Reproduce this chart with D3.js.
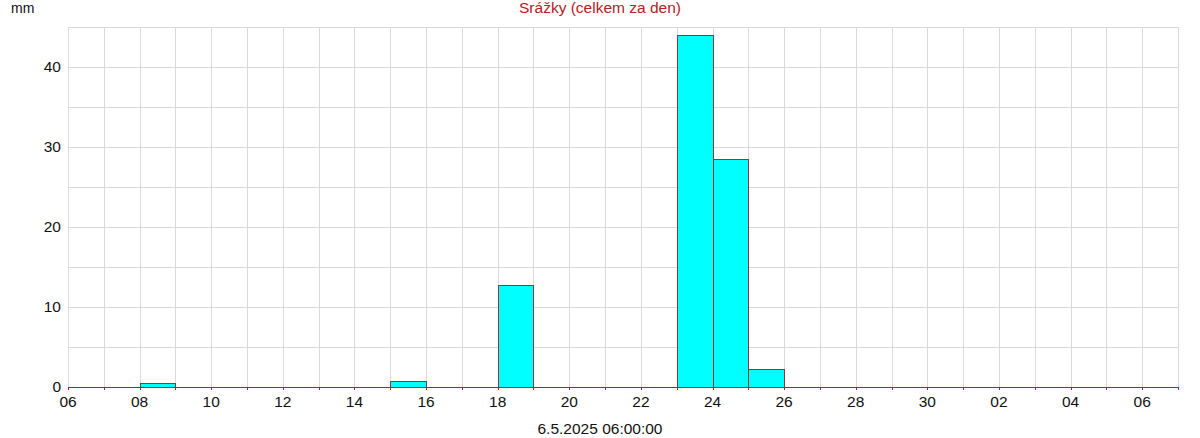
<!DOCTYPE html>
<html>
<head>
<meta charset="utf-8">
<script src="https://cdn.jsdelivr.net/npm/d3@7"></script>
<style>
  body { margin: 0; background: #fff; }
  svg { display: block; font-family: "Liberation Sans", Arial, sans-serif; }
</style>
</head>
<body>
<svg id="chart" width="1200" height="438"></svg>
<script>
// ---- data ----
const title = "Srážky (celkem za den)";
const yUnit = "mm";
const xCaption = "6.5.2025 06:00:00";
// day index 0 = 06.04.2025 ; domain spans 31 days
const dayCount = 31;
const tickLabels = ["06","08","10","12","14","16","18","20","22","24","26","28","30","02","04","06"];
const barDays = [2, 9, 12, 17, 18, 19];
const barValues = [0.5, 0.8, 12.8, 44.0, 28.5, 2.3];
const yTicks = [0, 10, 20, 30, 40];
const yMax = 45;

// ---- chart ----
(function () {
const svg = d3.select("#chart");
const pLeft = 68, pRight = 1178, pTop = 27, pBottom = 387;
const x = d3.scaleLinear().domain([0, dayCount]).range([pLeft, pRight]);
const y = d3.scaleLinear().domain([0, yMax]).range([pBottom, pTop]);
const red = "#b22222";
const grid = "#d9d9d9";

const g = svg.append("g");
// vertical grid (each day)
g.selectAll("line.vg").data(d3.range(0, dayCount + 1)).enter().append("line")
  .attr("x1", d => Math.round(x(d)) + 0.5).attr("x2", d => Math.round(x(d)) + 0.5)
  .attr("y1", pTop).attr("y2", pBottom)
  .attr("stroke", grid).attr("stroke-width", 1);
// horizontal grid (every 5)
g.selectAll("line.hg").data(d3.range(0, yMax + 1, 5)).enter().append("line")
  .attr("x1", pLeft).attr("x2", pRight + 1)
  .attr("y1", d => Math.round(y(d)) + 0.5).attr("y2", d => Math.round(y(d)) + 0.5)
  .attr("stroke", grid).attr("stroke-width", 1);

// bars
g.selectAll("rect.bar").data(barDays.map((d, i) => ({d, v: barValues[i]}))).enter().append("rect")
  .attr("x", d => Math.round(x(d.d)) + 0.5)
  .attr("width", d => Math.round(x(d.d + 1)) - Math.round(x(d.d)))
  .attr("y", d => Math.round(y(d.v)) + 0.5)
  .attr("height", d => Math.round(y(0)) - Math.round(y(d.v)))
  .attr("fill", "#00ffff").attr("stroke", "#a03030").attr("stroke-width", 1);

// zero line
g.append("line").attr("x1", pLeft).attr("x2", pRight + 1)
  .attr("y1", Math.round(y(0)) + 0.5).attr("y2", Math.round(y(0)) + 0.5)
  .attr("stroke", red).attr("stroke-width", 1);
// day ticks
g.selectAll("line.tk").data(d3.range(0, dayCount + 1)).enter().append("line")
  .attr("x1", d => Math.round(x(d)) + 0.5).attr("x2", d => Math.round(x(d)) + 0.5)
  .attr("y1", Math.round(y(0)) + 0.5).attr("y2", Math.round(y(0)) + 3)
  .attr("stroke", red).attr("stroke-width", 1);

// x labels
g.selectAll("text.xl").data(tickLabels).enter().append("text")
  .attr("x", (d, i) => x(i * 2)).attr("y", 407)
  .attr("text-anchor", "middle").attr("font-size", 15.5).attr("fill", "#111")
  .text(d => d);

// y labels
g.selectAll("text.yl").data(yTicks).enter().append("text")
  .attr("x", 61).attr("y", d => y(d)).attr("dy", "0.35em")
  .attr("text-anchor", "end").attr("font-size", 15.5).attr("fill", "#111")
  .text(d => d);

svg.append("text").attr("x", 11).attr("y", 13).attr("font-size", 14).attr("fill", "#111").text(yUnit);
svg.append("text").attr("x", 600).attr("y", 13).attr("text-anchor", "middle")
  .attr("font-size", 15.5).attr("fill", red).text(title);
svg.append("text").attr("x", 600).attr("y", 434).attr("text-anchor", "middle")
  .attr("font-size", 15.5).attr("fill", "#111").text(xCaption);
})();
</script>
</body>
</html>
